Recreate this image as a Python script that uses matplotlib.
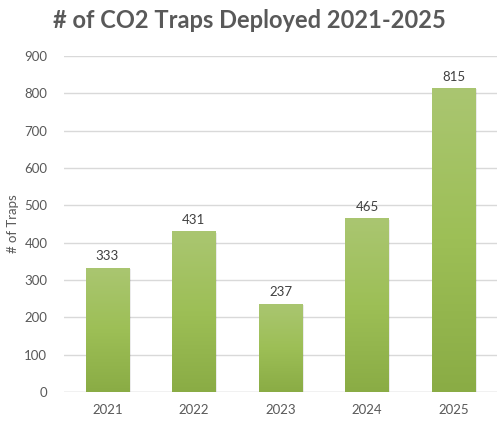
import numpy as np
import matplotlib
matplotlib.use("Agg")
import matplotlib.pyplot as plt
from matplotlib.colors import LinearSegmentedColormap

years = ["2021", "2022", "2023", "2024", "2025"]
traps = [333, 431, 237, 465, 815]

plt.rcParams['font.family'] = ['Lato', 'DejaVu Sans']
text_color = "#595959"

fig = plt.figure(figsize=(4.98, 4.21), dpi=100)
ax = fig.add_axes([64 / 498, 29 / 421, 433 / 498, 336 / 421])

x = np.arange(len(years))
bars = ax.bar(x, traps, width=0.5, color="none", edgecolor="none", zorder=3)

# vertical green gradient inside each bar
green = LinearSegmentedColormap.from_list("green", ["#8aac45", "#9dbf56", "#aac671"])
grad = np.linspace(0, 1, 256).reshape(-1, 1)
for b in bars:
    x0, w, h = b.get_x(), b.get_width(), b.get_height()
    # faint shadow to the right/bottom
    ax.bar(x0 + w / 2 + 0.02, h, width=w, bottom=-4, color="#000000", alpha=0.08, zorder=2)
    im = ax.imshow(grad, cmap=green, aspect="auto", origin="lower",
                   extent=[x0, x0 + w, 0, h], zorder=3)
    im.set_clip_path(b)

for xi, v in zip(x, traps):
    ax.text(xi, v + 14, str(v), ha="center", va="bottom", fontsize=9.5, color="#404040")

ax.set_xlim(-0.5, len(years) - 0.5)
ax.set_ylim(0, 900)
ax.set_yticks(range(0, 901, 100))
ax.set_xticks(x)
ax.set_xticklabels(years)
ax.yaxis.grid(True, color="#d9d9d9", linewidth=1, zorder=0)
ax.set_axisbelow(True)
for s in ax.spines.values():
    s.set_visible(False)
ax.axhline(0, color="#d9d9d9", linewidth=1, zorder=1)
ax.tick_params(axis="both", length=0, labelsize=9.5, colors=text_color)
ax.tick_params(axis="y", pad=12)
ax.tick_params(axis="x", pad=9)

ax.set_ylabel("# of Traps", fontsize=9.5, color=text_color, labelpad=4)
fig.text(0.5, 0.952, "# of CO2 Traps Deployed 2021-2025", ha="center", va="center",
         fontsize=17, fontweight="bold", color=text_color)

fig.savefig("out.png", dpi=100)
